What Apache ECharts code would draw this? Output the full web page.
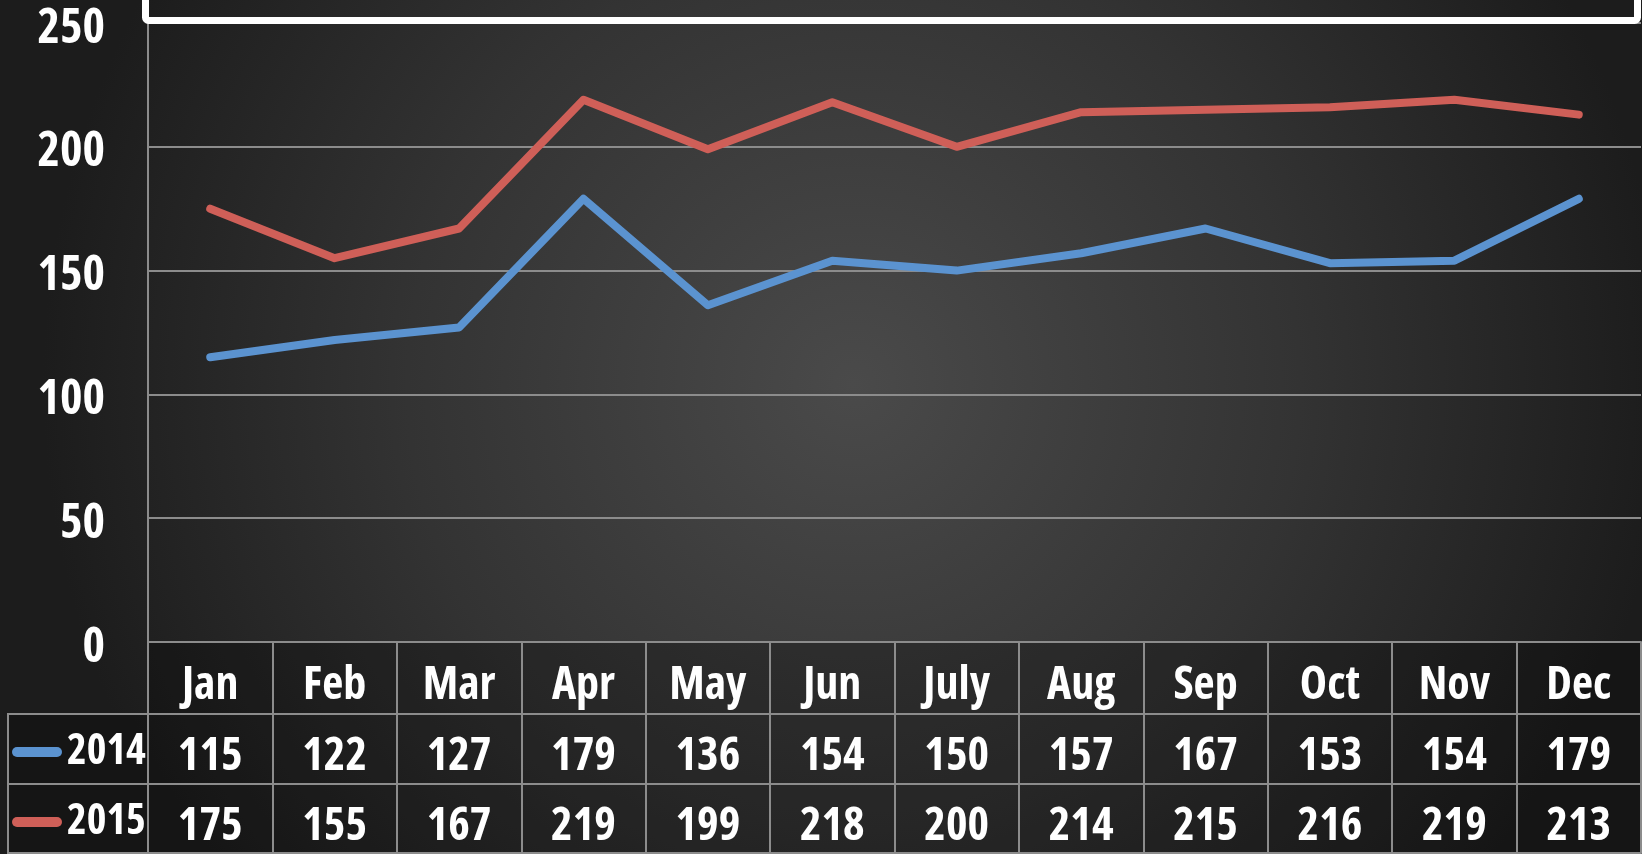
<!DOCTYPE html>
<html>
<head>
<meta charset="utf-8">
<title>2014 vs 2015</title>
<script src="https://cdn.jsdelivr.net/npm/echarts@6/dist/echarts.min.js"></script>
<style>
  html, body { margin: 0; padding: 0; background: #1e1e1e; }
  #chart { width: 1642px; height: 854px; }
</style>
</head>
<body>
<div id="chart"></div>
<script>
// data
var months = ['Jan', 'Feb', 'Mar', 'Apr', 'May', 'Jun', 'July', 'Aug', 'Sep', 'Oct', 'Nov', 'Dec']
var sales2014 = [115, 122, 127, 179, 136, 154, 150, 157, 167, 153, 154, 179]
var sales2015 = [175, 155, 167, 219, 199, 218, 200, 214, 215, 216, 219, 213]
var yTicks = [0, 50, 100, 150, 200, 250]
var seriesNames = ['2014', '2015']

var LINE = '#8c8c8c'
var BLUE = '#5b93d0'
var RED = '#cf5f58'

var chart = echarts.init(document.getElementById('chart'))

// narrow bold text: Open Sans at its condensed width
var labelStyle = {
  color: '#fff',
  fontFamily: '"Open Sans"',
  fontWeight: 'bold condensed',
  fontSize: 46
}

// an extra x axis under the plot = one row of the table
function tableRow(offset, values) {
  return {
    type: 'category',
    data: months,
    position: 'bottom',
    offset: offset,
    axisLine: { show: true, lineStyle: { color: LINE, width: 2 } },
    axisTick: { show: false },
    axisLabel: Object.assign({}, labelStyle, {
      show: values != null,
      interval: 0,
      margin: 43,
      verticalAlign: 'middle',
      formatter: function (v, i) { return values ? String(values[i]) : '' }
    }),
    splitLine: { show: false }
  }
}

var pill = 'path://M5,0 L45,0 A5,5 0 0 1 45,10 L5,10 A5,5 0 0 1 5,0 Z'

chart.setOption({
  backgroundColor: {
    type: 'radial', x: 0.52, y: 0.45, r: 0.95,
    colorStops: [
      { offset: 0, color: '#4a4a4a' },
      { offset: 0.55, color: '#333333' },
      { offset: 1, color: '#1c1c1c' }
    ]
  },
  animation: false,
  grid: { left: 148, right: 1, top: 23, bottom: 212, containLabel: false },
  legend: {
    data: seriesNames,
    orient: 'vertical',
    left: 12,
    top: 722,
    padding: 0,
    itemGap: 10,
    itemWidth: 50,
    itemHeight: 10,
    icon: pill,
    textStyle: Object.assign({}, labelStyle, { fontSize: 42, lineHeight: 60 })
  },
  xAxis: [
    {
      type: 'category',
      data: months,
      boundaryGap: true,
      axisLine: { show: true, lineStyle: { color: LINE, width: 2 } },
      axisTick: { show: true, interval: 0, length: 211, lineStyle: { color: LINE, width: 2 } },
      axisLabel: Object.assign({}, labelStyle, { interval: 0, margin: 44, verticalAlign: 'middle' }),
      splitLine: { show: false }
    },
    tableRow(72, sales2014),
    tableRow(142, sales2015),
    tableRow(211, null)
  ],
  yAxis: {
    type: 'value',
    min: yTicks[0],
    max: yTicks[yTicks.length - 1],
    interval: yTicks[1] - yTicks[0],
    axisLine: { show: true, lineStyle: { color: LINE, width: 2 } },
    axisTick: { show: false },
    axisLabel: Object.assign({}, labelStyle, { fontSize: 48, margin: 43, verticalAlign: 'top', lineHeight: 12 }),
    splitLine: { show: true, lineStyle: { color: LINE, width: 2 } }
  },
  series: [
    {
      name: seriesNames[0],
      type: 'line',
      data: sales2014,
      symbol: 'none',
      color: BLUE,
      lineStyle: { width: 8, cap: 'round', join: 'round' }
    },
    {
      name: seriesNames[1],
      type: 'line',
      data: sales2015,
      symbol: 'none',
      color: RED,
      lineStyle: { width: 8, cap: 'round', join: 'round' }
    }
  ],
  graphic: [
    // darker fill behind the table cells
    { type: 'rect', z: -10, silent: true, shape: { x: 148, y: 642, width: 1493, height: 212 }, style: { fill: 'rgba(0,0,0,0.25)' } },
    { type: 'rect', z: -10, silent: true, shape: { x: 8, y: 714, width: 140, height: 140 }, style: { fill: 'rgba(0,0,0,0.25)' } },
    // legend column borders
    { type: 'line', z: 5, silent: true, shape: { x1: 8, y1: 714, x2: 148, y2: 714 }, style: { stroke: LINE, lineWidth: 2 } },
    { type: 'line', z: 5, silent: true, shape: { x1: 8, y1: 784, x2: 148, y2: 784 }, style: { stroke: LINE, lineWidth: 2 } },
    { type: 'line', z: 5, silent: true, shape: { x1: 8, y1: 853, x2: 148, y2: 853 }, style: { stroke: LINE, lineWidth: 2 } },
    { type: 'line', z: 5, silent: true, shape: { x1: 8, y1: 713, x2: 8, y2: 854 }, style: { stroke: LINE, lineWidth: 2 } },
    // title box, cut off at the top
    { type: 'rect', z: 5, silent: true, shape: { x: 145.5, y: -30, width: 1492, height: 50.5, r: 3 }, style: { fill: 'none', stroke: '#fff', lineWidth: 7 } }
  ]
})
</script>
</body>
</html>
